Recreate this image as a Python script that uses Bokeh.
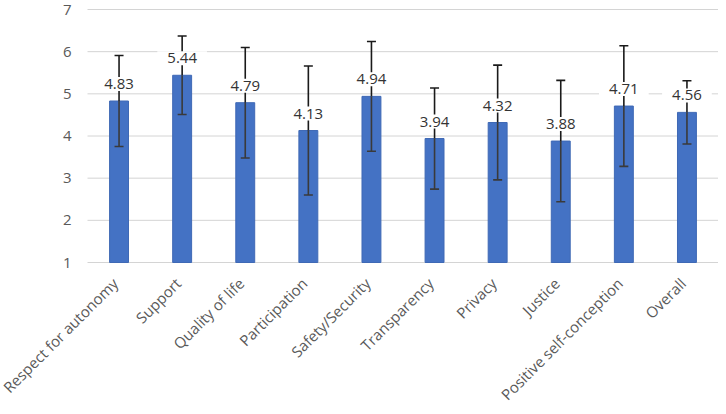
import math
from bokeh.plotting import figure
from bokeh.models import ColumnDataSource, Range1d
from bokeh.core.properties import value
from bokeh.embed import file_html
from bokeh.resources import INLINE

categories = ["Respect for autonomy", "Support", "Quality of life", "Participation",
              "Safety/Security", "Transparency", "Privacy", "Justice",
              "Positive self-conception", "Overall"]
means = [4.83, 5.44, 4.79, 4.13, 4.94, 3.94, 4.32, 3.88, 4.71, 4.56]
sds = [1.08, 0.93, 1.31, 1.53, 1.30, 1.20, 1.36, 1.44, 1.43, 0.75]
y_ticks = [1, 2, 3, 4, 5, 6, 7]

FONT = "Open Sans"
W, H = 718, 406
# layout of the plotting area inside the canvas (pixels)
LEFT, TOP, BOTTOM = 87, 9, 262

n = len(categories)
step = (W - LEFT) / n                      # px per category
unit = (BOTTOM - TOP) / (y_ticks[-1] - y_ticks[0])   # px per y unit

x_range = Range1d(-LEFT / step, n)
y_range = Range1d(y_ticks[0] - (H - BOTTOM) / unit, y_ticks[-1] + TOP / unit)

src = ColumnDataSource(dict(
    pos=[i + 0.5 for i in range(n)],
    cat=categories,
    mean=means,
    upper=[m + s for m, s in zip(means, sds)],
    lower=[m - s for m, s in zip(means, sds)],
    label=[f"{m:.2f}" for m in means],
    base=[y_ticks[0]] * n,
))
grid_src = ColumnDataSource(dict(
    x0=[0] * len(y_ticks),
    x1=[n] * len(y_ticks),
    y=y_ticks,
    text=[str(t) for t in y_ticks],
))

p = figure(x_range=x_range, y_range=y_range, width=W, height=H,
           output_backend="svg", toolbar_location=None,
           min_border_left=0, min_border_right=0, min_border_top=0, min_border_bottom=0)
p.axis.visible = False
p.grid.grid_line_color = None
p.outline_line_color = None
p.background_fill_color = "white"
p.border_fill_color = "white"

# horizontal gridlines and y tick labels
p.segment(x0="x0", y0="y", x1="x1", y1="y", source=grid_src,
          line_color="#d4d4d4", line_width=1)
p.text(x="x0", y="y", text="text", source=grid_src, x_offset=-16,
       text_align="right", text_baseline="middle",
       text_font=value(FONT), text_font_size="15px", text_color="#595959")

# bars
p.vbar(x="pos", top="mean", bottom="base", width=0.3, source=src,
       fill_color="#4472C4", line_color="#3f69b5", line_width=1)

# error bars
p.segment(x0="pos", y0="mean", x1="pos", y1="upper", source=src,
          line_color="#1a1a1a", line_width=1.6)
p.segment(x0="pos", y0="lower", x1="pos", y1="mean", source=src,
          line_color="#3a3a3a", line_width=1.6)
p.scatter(x="pos", y="upper", source=src, marker="dash", size=9,
          line_color="#1a1a1a", line_width=1.6)
p.scatter(x="pos", y="lower", source=src, marker="dash", size=9,
          line_color="#3a3a3a", line_width=1.6)

# value labels
p.text(x="pos", y="mean", text="label", source=src, y_offset=-17,
       text_align="center", text_baseline="middle",
       text_font=value(FONT), text_font_size="15px", text_color="#333333",
       background_fill_color="white", padding=(10, 2))

# category labels, rotated 45 degrees
p.text(x="pos", y="base", text="cat", source=src, x_offset=-4, y_offset=18,
       angle=math.pi / 4, text_align="right", text_baseline="middle",
       text_font=value(FONT), text_font_size="15px", text_color="#595959")

open("out.html", "w").write(file_html(p, INLINE))
